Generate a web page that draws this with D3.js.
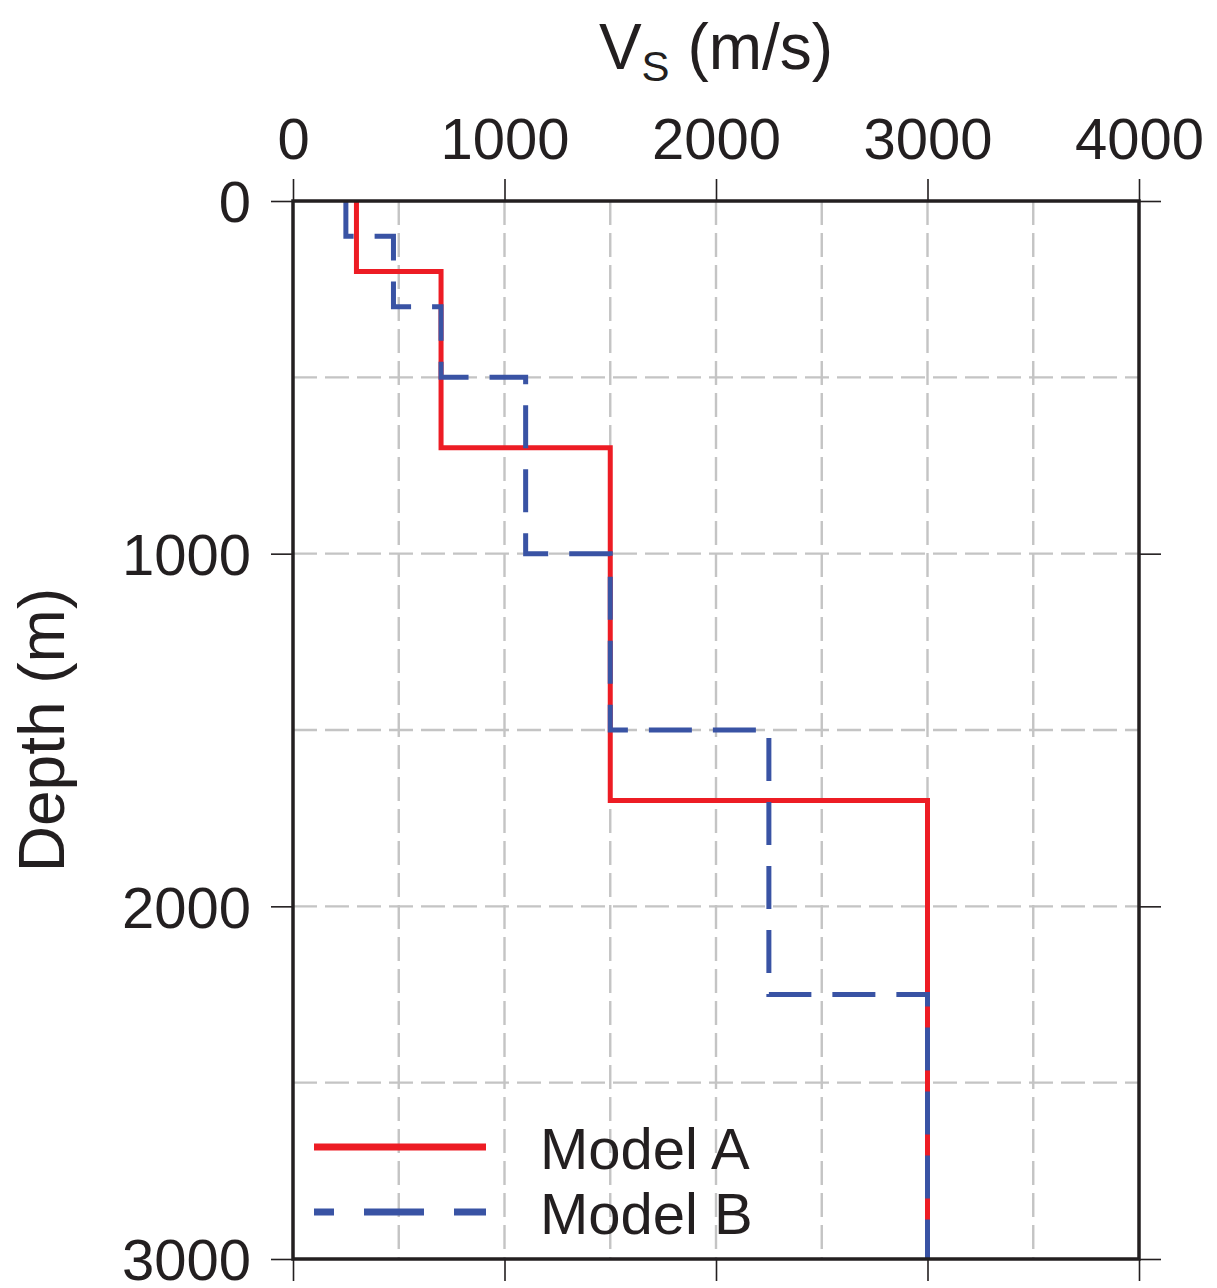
<!DOCTYPE html>
<html>
<head>
<meta charset="utf-8">
<script src="https://cdn.jsdelivr.net/npm/d3@7"></script>
<style>
  body { margin: 0; background: #fff; }
  text { font-family: "Liberation Sans", Arial, sans-serif; fill: #231f20; }
</style>
</head>
<body>
<div id="wrapper"></div>
<script>
// Layer tops (m) and shear-wave velocities (m/s)
const modelATops = [0, 200, 700, 1700];
const modelAVs = [300, 700, 1500, 3000];
const modelBTops = [0, 100, 300, 500, 1000, 1500, 2250];
const modelBVs = [250, 475, 700, 1100, 1500, 2250, 3000];
const maxDepth = 3000;

const xTicks = [0, 1000, 2000, 3000, 4000];
const yTicks = [0, 1000, 2000, 3000];
const xGrid = [500, 1000, 1500, 2000, 2500, 3000, 3500];
const yGrid = [500, 1000, 1500, 2000, 2500];
const legendNames = ["Model A", "Model B"];

const width = 1217;
const height = 1288;
const margin = { top: 201, right: 78, bottom: 29, left: 293 };

const svg = d3.select("#wrapper").append("svg")
  .attr("width", width)
  .attr("height", height);

const xScale = d3.scaleLinear().domain([0, 4000]).range([margin.left, width - margin.right]);
const yScale = d3.scaleLinear().domain([0, maxDepth]).range([margin.top, height - margin.bottom]);

// grid
svg.append("g").selectAll("line").data(xGrid).join("line")
  .attr("x1", d => xScale(d)).attr("x2", d => xScale(d))
  .attr("y1", yScale(0)).attr("y2", yScale(maxDepth))
  .attr("stroke", "#c4c4c4").attr("stroke-width", 2.4)
  .attr("stroke-dasharray", "24,8");
svg.append("g").selectAll("line").data(yGrid).join("line")
  .attr("y1", d => yScale(d)).attr("y2", d => yScale(d))
  .attr("x1", xScale(0)).attr("x2", xScale(4000))
  .attr("stroke", "#c4c4c4").attr("stroke-width", 2.4)
  .attr("stroke-dasharray", "24,8");

// step profile points
const profile = (tops, vs) => {
  const pts = [];
  tops.forEach((t, i) => {
    const bottom = i < tops.length - 1 ? tops[i + 1] : maxDepth;
    pts.push([vs[i], t]);
    pts.push([vs[i], bottom]);
  });
  return pts;
};

const line = d3.line().x(d => xScale(d[0])).y(d => yScale(d[1]));

svg.append("path")
  .attr("d", line(profile(modelATops, modelAVs)))
  .attr("fill", "none").attr("stroke", "#ed1c24").attr("stroke-width", 5);

svg.append("path")
  .attr("d", line(profile(modelBTops, modelBVs)))
  .attr("fill", "none").attr("stroke", "#3953a4").attr("stroke-width", 5)
  .attr("stroke-dasharray", "43,21");

// frame
svg.append("rect")
  .attr("x", xScale(0)).attr("y", yScale(0))
  .attr("width", xScale(4000) - xScale(0))
  .attr("height", yScale(maxDepth) - yScale(0))
  .attr("fill", "none").attr("stroke", "#231f20").attr("stroke-width", 3.5);

// axes
const tickLen = 22;
const fmt = d3.format("d");
const xTop = svg.append("g").attr("transform", `translate(0,${yScale(0)})`)
  .call(d3.axisTop(xScale).tickValues(xTicks).tickSize(tickLen).tickPadding(20).tickFormat(fmt));
const xBottom = svg.append("g").attr("transform", `translate(0,${yScale(maxDepth)})`)
  .call(d3.axisBottom(xScale).tickValues(xTicks).tickSize(tickLen).tickFormat(""));
const yLeft = svg.append("g").attr("transform", `translate(${xScale(0)},0)`)
  .call(d3.axisLeft(yScale).tickValues(yTicks).tickSize(tickLen).tickPadding(20).tickFormat(fmt));
const yRight = svg.append("g").attr("transform", `translate(${xScale(4000)},0)`)
  .call(d3.axisRight(yScale).tickValues(yTicks).tickSize(tickLen).tickFormat(""));

[xTop, xBottom, yLeft, yRight].forEach(ax => {
  ax.select(".domain").remove();
  ax.selectAll(".tick line").attr("stroke", "#231f20").attr("stroke-width", 1.6);
  ax.selectAll("text")
    .style("font-family", "'Liberation Sans', Arial, sans-serif")
    .style("font-size", "58px")
    .attr("fill", "#231f20");
});
yLeft.selectAll("text").attr("dy", "0.36em");

// axis titles
const xTitle = svg.append("text")
  .attr("x", xScale(2000)).attr("y", 69)
  .attr("text-anchor", "middle")
  .style("font-size", "64px");
xTitle.append("tspan").text("V");
xTitle.append("tspan").attr("dy", 12).style("font-size", "42px").text("S");
xTitle.append("tspan").attr("dy", -12).text(" (m/s)");

svg.append("text")
  .attr("transform", `translate(64,${(yScale(0) + yScale(maxDepth)) / 2}) rotate(-90)`)
  .attr("text-anchor", "middle")
  .style("font-size", "64px")
  .text("Depth (m)");

// legend
const legend = svg.append("g");
const legendY = [1147, 1212];
legend.append("line")
  .attr("x1", 314).attr("x2", 486).attr("y1", legendY[0]).attr("y2", legendY[0])
  .attr("stroke", "#ed1c24").attr("stroke-width", 7);
legend.append("line")
  .attr("x1", 314).attr("x2", 486).attr("y1", legendY[1]).attr("y2", legendY[1])
  .attr("stroke", "#3953a4").attr("stroke-width", 7)
  .attr("stroke-dasharray", "60,30").attr("stroke-dashoffset", 40);
legend.selectAll("text.leg").data(legendNames).join("text")
  .attr("class", "leg")
  .attr("x", 540)
  .attr("y", (d, i) => legendY[i] + 22)
  .style("font-size", "58px")
  .text(d => d);
</script>
</body>
</html>
